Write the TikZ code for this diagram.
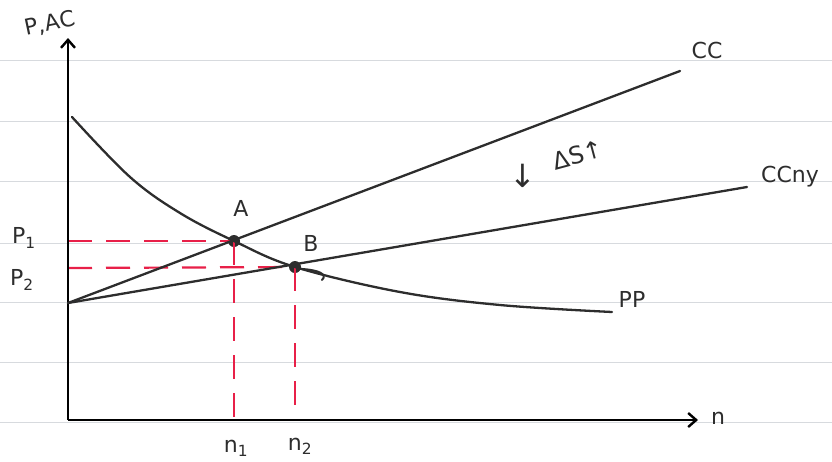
\documentclass[tikz,border=0pt]{standalone}
\usepackage{fontspec}
\setmainfont{DejaVu Sans}
\usetikzlibrary{arrows.meta}
\definecolor{penred}{RGB}{232,32,72}
\definecolor{pen}{RGB}{45,45,45}
\definecolor{ruling}{RGB}{215,218,222}
\begin{document}
\begin{tikzpicture}[x=1pt,y=-1pt,
  axis/.style={draw=black,line width=2.6pt,-{Straight Barb[length=8pt,width=14pt,line width=2.4pt]}},
  curve/.style={draw=pen,line width=2.3pt,line cap=round},
  guide/.style={draw=penred,line width=2.2pt,dash pattern=on 24pt off 14pt},
  lbl/.style={font=\fontsize{22}{22}\selectfont,text=pen,inner sep=1pt},
  big/.style={font=\fontsize{32}{32}\selectfont,text=pen,inner sep=0pt},
  dotpt/.style={circle,fill=pen,inner sep=0pt,minimum size=12pt}]
\useasboundingbox (0,0) rectangle (832,461);
% ruled paper
\foreach \yy in {60,121,181,243,302,362,422}
  \draw[ruling,line width=0.7pt] (0,\yy) -- (832,\yy);
% coordinates
\coordinate (O) at (68,420);
\coordinate (Ytop) at (68,38);
\coordinate (Xend) at (698,420);
\coordinate (C0) at (68,303);
\coordinate (CCend) at (680,71);
\coordinate (CCnyend) at (747,187);
\node[dotpt] (A) at (234,241) {};
\node[dotpt] (B) at (295,267) {};
\coordinate (P1) at (68,241);
\coordinate (P2) at (68,268);
\coordinate (N1) at (234,420);
\coordinate (N2) at (295,420);
% red guides
\draw[guide] (P1) -- (A.center);
\draw[guide] (P2) -- (B.center);
\draw[guide] (A.center) -- (N1);
\draw[guide] (B.center) -- (N2);
% axes
\draw[axis] (O) -- (Ytop);
\draw[axis] (O) -- (Xend);
% lines
\draw[curve] (C0) -- (CCend);
\draw[curve] (C0) -- (CCnyend);
% PP curve
\draw[curve] plot[smooth,tension=0.6] coordinates {(72,117) (130,177) (180,213) (234,241) (295,267) (400,292) (500,305) (612,312)};
\draw[curve,line width=2pt] (302,269) .. controls (318,270) and (328,274) .. (322,280);
% labels
\node[lbl,rotate=12] (pac) at (50,24) {P,AC};
\node[lbl] (nlab) at (718,418) {n};
\node[lbl] (cc) at (707,50) {CC};
\node[lbl] (ccny) at (790,177) {CCny};
\node[lbl] (pp) at (632,299) {PP};
\node[lbl] (p1) at (24,238) {P\textsubscript{1}};
\node[lbl] (p2) at (22,280) {P\textsubscript{2}};
\node[lbl] (n1) at (236,448) {n\textsubscript{1}};
\node[lbl] (n2) at (300,446) {n\textsubscript{2}};
\node[lbl] (alab) at (241,208) {A};
\node[lbl] (blab) at (311,243) {B};
\node[big] (dn) at (523,176) {↓};
\node[lbl,rotate=15,font=\fontsize{24}{24}\selectfont] (ds) at (578,155) {ΔS↑};
\end{tikzpicture}
\end{document}
